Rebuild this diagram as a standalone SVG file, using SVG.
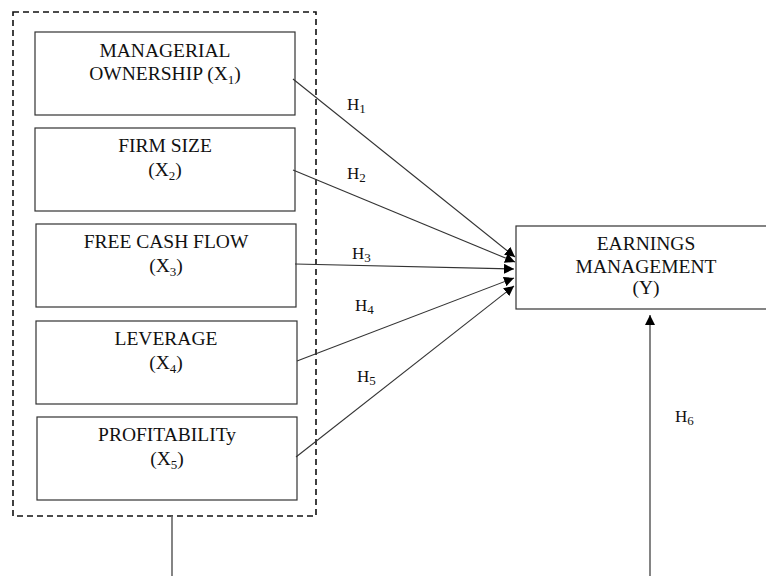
<svg xmlns="http://www.w3.org/2000/svg" width="766" height="576" viewBox="0 0 766 576">
<defs>
<style>
.box{fill:#fff;stroke:#333;stroke-width:1.2}
.t{font-family:"Liberation Serif","Times New Roman",serif;font-size:19.5px;fill:#111;text-anchor:middle}
.sub{font-size:13px}
.h{font-family:"Liberation Serif","Times New Roman",serif;font-size:17px;fill:#111}
.hs{font-size:13px}
.c{stroke:#333;stroke-width:1.1;fill:none}
.v{stroke:#666;stroke-width:1.6;fill:none}
</style>
<marker id="ah" viewBox="0 0 10 10" refX="10" refY="5" markerWidth="10" markerHeight="10" markerUnits="userSpaceOnUse" orient="auto">
<path d="M0,0 L10,5 L0,10 Z" fill="#000"/>
</marker>
</defs>
<rect width="766" height="576" fill="#fff"/>
<g id="group">
<rect x="13" y="12" width="303" height="504" fill="none" stroke="#111" stroke-width="1.6" stroke-dasharray="6,4"/>
</g>
<g id="x1">
<rect class="box" x="35" y="32" width="260" height="83"/>
<text class="t" x="165" y="57">MANAGERIAL</text>
<text class="t" x="165" y="80">OWNERSHIP (X<tspan class="sub" dy="4">1</tspan><tspan dy="-4">)</tspan></text>
</g>
<g id="x2">
<rect class="box" x="35" y="128" width="260" height="83"/>
<text class="t" x="165" y="152">FIRM SIZE</text>
<text class="t" x="165" y="176">(X<tspan class="sub" dy="4">2</tspan><tspan dy="-4">)</tspan></text>
</g>
<g id="x3">
<rect class="box" x="36" y="224" width="260" height="83"/>
<text class="t" x="166" y="248">FREE CASH FLOW</text>
<text class="t" x="166" y="272">(X<tspan class="sub" dy="4">3</tspan><tspan dy="-4">)</tspan></text>
</g>
<g id="x4">
<rect class="box" x="36" y="321" width="261" height="83"/>
<text class="t" x="166" y="345">LEVERAGE</text>
<text class="t" x="166" y="369">(X<tspan class="sub" dy="4">4</tspan><tspan dy="-4">)</tspan></text>
</g>
<g id="x5">
<rect class="box" x="37" y="417" width="260" height="83"/>
<text class="t" x="167" y="441">PROFITABILITy</text>
<text class="t" x="167" y="465">(X<tspan class="sub" dy="4">5</tspan><tspan dy="-4">)</tspan></text>
</g>
<g id="y">
<rect class="box" x="516" y="226" width="260" height="83"/>
<text class="t" x="646" y="250">EARNINGS</text>
<text class="t" x="646" y="273">MANAGEMENT</text>
<text class="t" x="646" y="294">(Y)</text>
</g>
<g id="connectors">
<line class="c" x1="293" y1="79" x2="515" y2="257" marker-end="url(#ah)"/>
<line class="c" x1="293" y1="170" x2="515" y2="262" marker-end="url(#ah)"/>
<line class="c" x1="295" y1="264" x2="514" y2="269" marker-end="url(#ah)"/>
<line class="c" x1="297" y1="361" x2="514" y2="278" marker-end="url(#ah)"/>
<line class="c" x1="296" y1="457" x2="514" y2="286" marker-end="url(#ah)"/>
<line class="v" x1="650" y1="576" x2="650" y2="315" marker-end="url(#ah)"/>
<line class="v" x1="172" y1="516" x2="172" y2="576"/>
<text class="h" x="347" y="110">H<tspan class="hs" dy="3">1</tspan></text>
<text class="h" x="347" y="179">H<tspan class="hs" dy="3">2</tspan></text>
<text class="h" x="352" y="259">H<tspan class="hs" dy="3">3</tspan></text>
<text class="h" x="355" y="311">H<tspan class="hs" dy="3">4</tspan></text>
<text class="h" x="357" y="382">H<tspan class="hs" dy="3">5</tspan></text>
<text class="h" x="675" y="422">H<tspan class="hs" dy="3">6</tspan></text>
</g>
</svg>
